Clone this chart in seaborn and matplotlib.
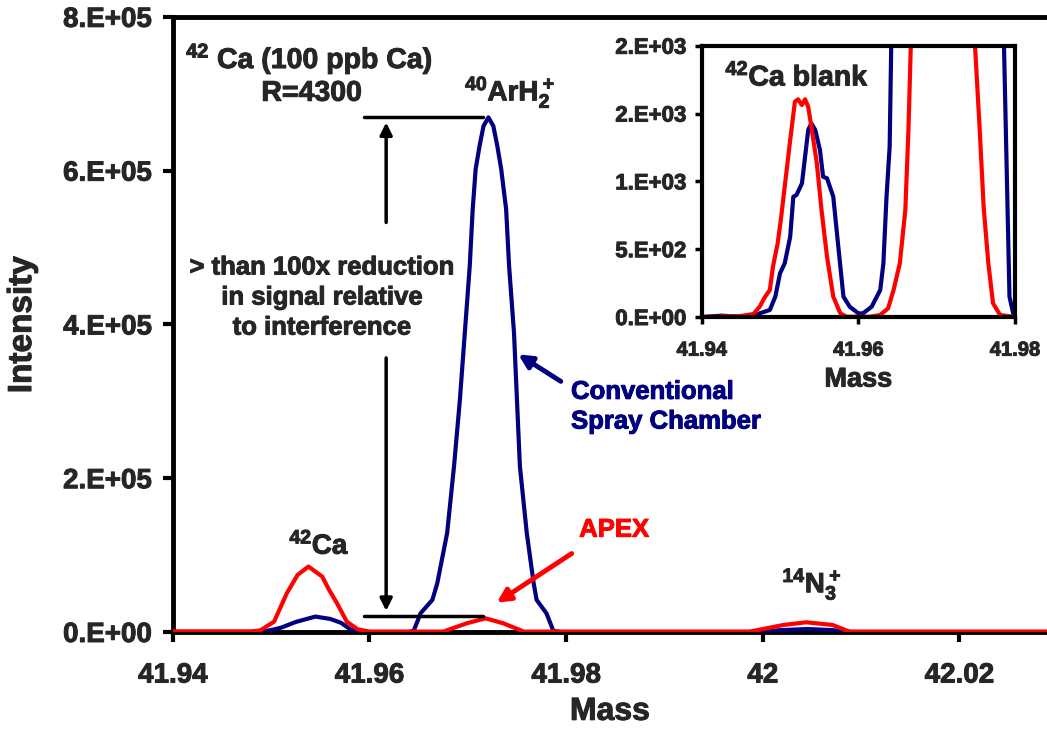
import numpy as np
import pandas as pd
import matplotlib
matplotlib.use("Agg")
import matplotlib.pyplot as plt
import matplotlib.patheffects as pe
from matplotlib.text import Annotation
import seaborn as sns

# ---------------- data ----------------
# Main chart: conventional spray chamber (blue)
conv_mass = [41.9380, 41.9490, 41.9500, 41.9510, 41.9525, 41.9545, 41.9560, 41.9571, 41.9580, 41.9588,
             41.9640, 41.9645, 41.9652, 41.9664, 41.9669, 41.9679, 41.9686, 41.9692, 41.9697, 41.9702,
             41.9705, 41.9708, 41.9712, 41.9716, 41.9721, 41.9726, 41.9730, 41.9734, 41.9739, 41.9742,
             41.9747, 41.9750, 41.9753, 41.9760, 41.9767, 41.9770, 41.9780, 41.9787, 41.9795,
             41.9990, 42.0020, 42.0045, 42.0070, 42.0090, 42.0300]
conv_int = [0, 0, 2500, 5500, 13000, 20000, 17000, 12000, 4000, 0,
            0, 1500, 24300, 41700, 63400, 128600, 215400, 302300, 389200, 476000,
            549800, 601900, 632300, 658000, 669300, 658000, 632300, 601900, 549800, 476000,
            389200, 302300, 215400, 128600, 63400, 41700, 24300, 1500, 0,
            0, 2500, 3800, 2500, 0, 0]

# Main chart: APEX (red)
apex_mass = [41.9380, 41.9480, 41.9489, 41.9503, 41.9516, 41.9527, 41.9538, 41.9552, 41.9559, 41.9567,
             41.9577, 41.9588, 41.9600, 41.9675, 41.9699, 41.9718, 41.9736, 41.9757,
             41.9987, 42.0021, 42.0044, 42.0071, 42.0088, 42.0300]
apex_int = [800, 800, 2000, 13400, 50400, 74300, 85100, 72000, 54700, 37400,
            13400, 3500, 500, 500, 11300, 17800, 11300, 500,
            500, 9100, 12600, 9100, 500, 500]

# Inset: 42Ca blank
blank_conv_mass = [41.9400, 41.9425, 41.9440, 41.9466, 41.9474, 41.9487, 41.9494, 41.9500, 41.9506, 41.9513,
                   41.9517, 41.9521, 41.9528, 41.9532, 41.9536, 41.9540, 41.9545, 41.9551, 41.9555, 41.9560,
                   41.9568, 41.9574, 41.9581, 41.9589, 41.9600, 41.9606, 41.9617, 41.9628, 41.9632, 41.9636,
                   41.9640, 41.9642, 41.9660, 41.9720, 41.9786, 41.9793, 41.9798, 41.9800]
blank_conv_int = [0, 10, 5, 0, 27, 52, 150, 322, 396, 592,
                  887, 899, 985, 1182, 1379, 1428, 1379, 1231, 1034, 1023,
                  887, 543, 150, 76, 27, 27, 76, 199, 396, 887,
                  1256, 2000, 8000, 30000, 2000, 150, 20, 0]
blank_apex_mass = [41.9400, 41.9449, 41.9466, 41.9474, 41.9481, 41.9487, 41.9491, 41.9497, 41.9501, 41.9509,
                   41.9513, 41.9519, 41.9523, 41.9528, 41.9532, 41.9536, 41.9540, 41.9547, 41.9553, 41.9560,
                   41.9568, 41.9577, 41.9585, 41.9615, 41.9628, 41.9638, 41.9645, 41.9653, 41.9660, 41.9664,
                   41.9667, 41.9690, 41.9720, 41.9749, 41.9755, 41.9760, 41.9766, 41.9772, 41.9781, 41.9798]
blank_apex_int = [0, 7, 22, 76, 150, 199, 371, 543, 715, 1108,
                  1305, 1587, 1605, 1563, 1605, 1550, 1403, 1133, 789, 445,
                  150, 27, 2, 2, 15, 64, 199, 396, 789, 1379,
                  2000, 9000, 20000, 2000, 1379, 813, 396, 101, 15, 2]

main_xticks = [41.94, 41.96, 41.98, 42.00, 42.02]
main_xticklabels = ["41.94", "41.96", "41.98", "42", "42.02"]
main_yticks = [0, 2e5, 4e5, 6e5, 8e5]
main_yticklabels = ["0.E+00", "2.E+05", "4.E+05", "6.E+05", "8.E+05"]
inset_xticks = [41.94, 41.96, 41.98]
inset_xticklabels = ["41.94", "41.96", "41.98"]
inset_yticks = [0, 500, 1000, 1500, 2000]
inset_yticklabels = ["0.E+00", "5.E+02", "1.E+03", "2.E+03", "2.E+03"]

BLUE = "#000080"
RED = "#FF0000"

# ---------------- style ----------------
sns.set_style("ticks")
plt.rcParams["font.family"] = ["Liberation Sans", "DejaVu Sans"]
plt.rcParams["font.weight"] = "bold"
plt.rcParams["mathtext.fontset"] = "custom"
plt.rcParams["mathtext.rm"] = "Liberation Sans:bold"
plt.rcParams["mathtext.bf"] = "Liberation Sans:bold"
plt.rcParams["mathtext.default"] = "bf"

fig = plt.figure(figsize=(10.47, 7.34), dpi=100)
ax = fig.add_axes([0.165, 0.139, 0.835, 0.838])

conv_df = pd.DataFrame({"Mass": conv_mass, "Intensity": conv_int})
apex_df = pd.DataFrame({"Mass": apex_mass, "Intensity": apex_int})
sns.lineplot(data=conv_df, x="Mass", y="Intensity", color=BLUE, lw=3, ax=ax, sort=False, zorder=3)
sns.lineplot(data=apex_df, x="Mass", y="Intensity", color=RED, lw=3, ax=ax, sort=False, zorder=4)

ax.set_xlim(41.94, 42.0289)
ax.set_ylim(0, 8e5)
ax.set_xticks(main_xticks)
ax.set_xticklabels(main_xticklabels)
ax.set_yticks(main_yticks)
ax.set_yticklabels(main_yticklabels)
ax.tick_params(axis="both", width=3, length=7, direction="out", color="black")
ax.tick_params(axis="x", labelsize=20, pad=15)
ax.tick_params(axis="y", labelsize=20, pad=8)
for lab in ax.get_xticklabels() + ax.get_yticklabels():
    lab.set_fontweight("bold")
ax.set_xlabel("Mass", fontsize=23, fontweight="bold", labelpad=6)
ax.set_ylabel("Intensity", fontsize=24, fontweight="bold", labelpad=18)
for side in ["left", "top", "bottom"]:
    ax.spines[side].set_linewidth(3.5)
    ax.spines[side].set_color("black")
ax.spines["right"].set_visible(False)

# annotations
peak_top = max(conv_int)
apex_arh = max(apex_int[12:18])
x_bar0, x_bar1, x_arrow = 41.9594, 41.9715, 41.9617
ax.plot([x_bar0, x_bar1], [peak_top, peak_top], color="black", lw=2.5, zorder=5)
ax.plot([x_bar0, x_bar1], [apex_arh + 3000, apex_arh + 3000], color="black", lw=2.5, zorder=5)
ax.annotate("", xy=(x_arrow, peak_top - 3000), xytext=(x_arrow, 5.29e5),
            arrowprops=dict(arrowstyle="-|>", color="black", lw=2.5, mutation_scale=18))
ax.annotate("", xy=(x_arrow, apex_arh + 6000), xytext=(x_arrow, 3.6e5),
            arrowprops=dict(arrowstyle="-|>", color="black", lw=2.5, mutation_scale=18))
ax.text(41.9552, 4.35e5, "> than 100x reduction\nin signal relative\nto interference",
        ha="center", va="center", fontsize=18.5, fontweight="bold", linespacing=1.32)

ax.text(41.9539, 7.45e5, r"$^{42}$ Ca (100 ppb Ca)", ha="center", va="center", fontsize=20.5, fontweight="bold")
ax.text(41.9541, 7.0e5, "R=4300", ha="center", va="center", fontsize=20.5, fontweight="bold")
ax.text(41.9743, 7.02e5, r"$^{40}$ArH$_2^+$", ha="center", va="center", fontsize=20, fontweight="bold")
ax.text(41.9549, 1.12e5, r"$^{42}$Ca", ha="center", va="center", fontsize=20, fontweight="bold")
ax.text(42.0050, 0.62e5, r"$^{14}$N$_3^+$", ha="center", va="center", fontsize=20, fontweight="bold")

ax.text(41.9849, 1.33e5, "APEX", ha="center", va="center", fontsize=18.5, fontweight="bold", color=RED)
ax.annotate("", xy=(41.9727, 0.36e5), xytext=(41.9808, 1.04e5),
            arrowprops=dict(arrowstyle="-|>", color=RED, lw=3.5, mutation_scale=20))
ax.text(41.9805, 2.93e5, "Conventional\nSpray Chamber", ha="left", va="center",
        fontsize=18.5, fontweight="bold", color=BLUE, linespacing=1.3)
ax.annotate("", xy=(41.9749, 3.63e5), xytext=(41.9797, 3.24e5),
            arrowprops=dict(arrowstyle="-|>", color=BLUE, lw=3.5, mutation_scale=20))

# ---------------- inset ----------------
ins = fig.add_axes([0.6702, 0.5681, 0.2992, 0.3696])
bc_df = pd.DataFrame({"Mass": blank_conv_mass, "Intensity": blank_conv_int})
ba_df = pd.DataFrame({"Mass": blank_apex_mass, "Intensity": blank_apex_int})
sns.lineplot(data=bc_df, x="Mass", y="Intensity", color=BLUE, lw=3, ax=ins, sort=False)
sns.lineplot(data=ba_df, x="Mass", y="Intensity", color=RED, lw=3, ax=ins, sort=False)
ins.set_xlim(41.94, 41.98)
ins.set_ylim(0, 2000)
ins.set_xticks(inset_xticks)
ins.set_xticklabels(inset_xticklabels)
ins.set_yticks(inset_yticks)
ins.set_yticklabels(inset_yticklabels)
ins.tick_params(axis="both", width=2.5, length=5, direction="out", color="black")
ins.tick_params(axis="x", labelsize=14.5, pad=12)
ins.tick_params(axis="y", labelsize=16, pad=6)
for lab in ins.get_xticklabels() + ins.get_yticklabels():
    lab.set_fontweight("bold")
ins.set_xlabel("Mass", fontsize=19.5, fontweight="bold", labelpad=5)
ins.set_ylabel("")
for side in ins.spines:
    ins.spines[side].set_linewidth(3)
    ins.spines[side].set_color("black")
ins.text(0.075, 0.885, r"$^{42}$Ca blank", transform=ins.transAxes, ha="left", va="center",
         fontsize=20.5, fontweight="bold")

# slightly heavier text strokes, like the reference rendering (plain texts only)
for a in (ax, ins):
    items = [t for t in a.texts if not isinstance(t, Annotation)]
    items += a.get_xticklabels() + a.get_yticklabels() + [a.xaxis.label, a.yaxis.label]
    for t in items:
        t.set_path_effects([pe.withStroke(linewidth=0.7, foreground=t.get_color())])

fig.savefig("out.png", dpi=100)
